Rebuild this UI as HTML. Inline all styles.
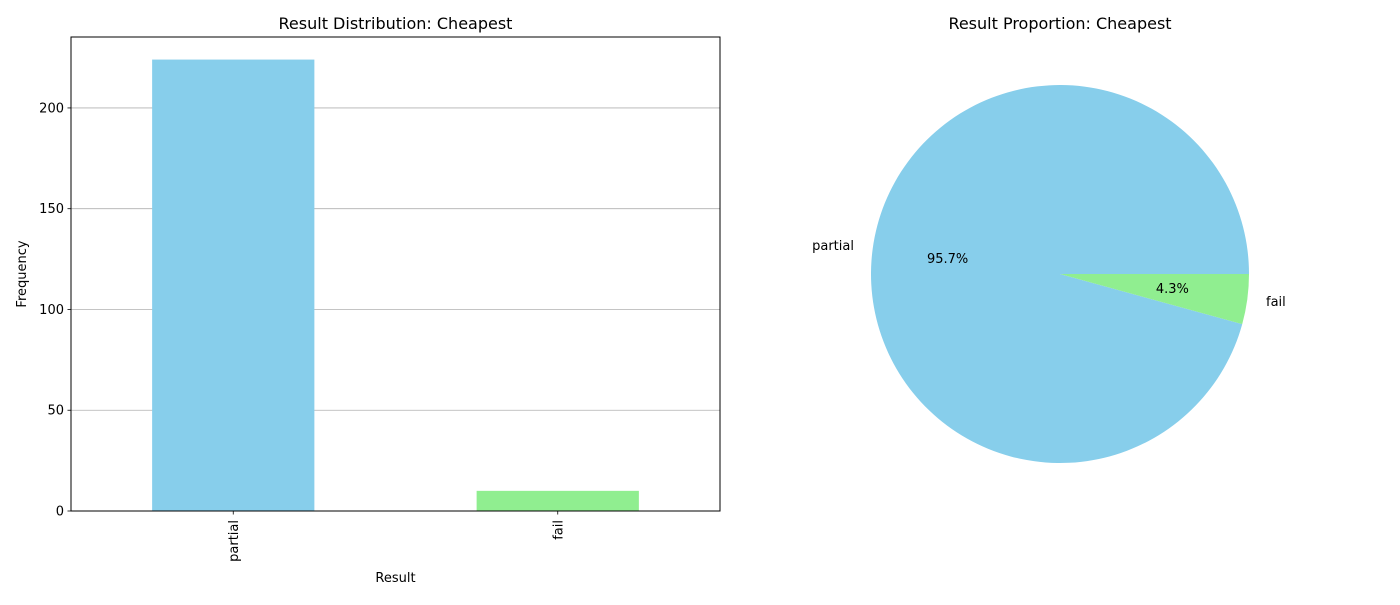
<!DOCTYPE html>
<html><head><meta charset="utf-8"><style>
body{margin:0;background:#fff;font-family:"Liberation Sans","DejaVu Sans",sans-serif;}
svg text{font-family:"DejaVu Sans","Liberation Sans",sans-serif;}
</style></head><body>
<svg id="c" width="1400" height="600" xmlns="http://www.w3.org/2000/svg"></svg>
<script>
const categories = ["partial", "fail"];
const counts = [224, 10];
const colors = ["#87ceeb", "#90ee90"];
const yTicks = [0, 50, 100, 150, 200];

const NS = "http://www.w3.org/2000/svg";
const svg = document.getElementById("c");
function mk(tag, attrs, parent) {
  const e = document.createElementNS(NS, tag);
  for (const k in attrs) e.setAttribute(k, attrs[k]);
  (parent || svg).appendChild(e);
  return e;
}
function txt(s, attrs, parent) { const t = mk("text", attrs, parent); t.textContent = s; return t; }

const L = 71, R = 720, T = 37, B = 511;
const yMax = Math.max(...counts) * 1.05;
const y = v => B - v / yMax * (B - T);
const x = i => L + (i + 0.5) / categories.length * (R - L);
const bw = (R - L) / categories.length * 0.5;

const bar = mk("g", {});



yTicks.forEach(v => {
  if (v > 0) {
    const g = mk("line", {x1: L, x2: R, y1: y(v), y2: y(v), stroke: "#b0b0b0", "stroke-width": 0.8}, bar);
    
    
  }
  mk("line", {x1: L - 3.5, x2: L, y1: y(v), y2: y(v), stroke: "#000", "stroke-width": 0.8}, bar);
  const t = txt(v, {x: L - 7, y: y(v) + 4.5, "text-anchor": "end", "font-size": 13}, bar);
  
  
});

categories.forEach((c, i) => {
  const r = mk("rect", {x: x(i) - bw / 2, y: y(counts[i]), width: bw, height: B - y(counts[i]), fill: colors[i]}, bar);
  
  
  mk("line", {x1: x(i), x2: x(i), y1: B, y2: B + 3.5, stroke: "#000", "stroke-width": 0.8}, bar);
  const t = txt(c, {x: 0, y: 0, "text-anchor": "end", "font-size": 13, transform: `translate(${x(i) + 4.5},${B + 9}) rotate(-90)`}, bar);
  
  
});

const frame = mk("rect", {x: L, y: T, width: R - L, height: B - T, fill: "none", stroke: "#000", "stroke-width": 1}, bar);



let t1 = txt("Result Distribution: Cheapest", {x: (L + R) / 2, y: 29, "text-anchor": "middle", "font-size": 16}, bar);


let xl = txt("Result", {x: (L + R) / 2, y: 582, "text-anchor": "middle", "font-size": 13}, bar);


let yl = txt("Frequency", {x: 0, y: 0, "text-anchor": "middle", "font-size": 13, transform: `translate(26,${(T + B) / 2}) rotate(-90)`}, bar);



const cx = 1060, cy = 274, rad = 189;
const pie = mk("g", {});


const total = counts.reduce((a, b) => a + b, 0);
let a0 = 0;
categories.forEach((c, i) => {
  const frac = counts[i] / total;
  const a1 = a0 + frac * 2 * Math.PI;
  const p0 = [cx + rad * Math.cos(a0), cy - rad * Math.sin(a0)];
  const p1 = [cx + rad * Math.cos(a1), cy - rad * Math.sin(a1)];
  const large = (a1 - a0) > Math.PI ? 1 : 0;
  const w = mk("path", {d: `M${cx},${cy} L${p0[0]},${p0[1]} A${rad},${rad} 0 ${large} 0 ${p1[0]},${p1[1]} Z`, fill: colors[i]}, pie);
  
  
  const am = (a0 + a1) / 2;
  const lx = cx + 1.1 * rad * Math.cos(am), ly = cy - 1.1 * rad * Math.sin(am);
  const lt = txt(c, {x: lx, y: ly + 4, "text-anchor": Math.cos(am) < 0 ? "end" : "start", "font-size": 13}, pie);
  
  
  const px = cx + 0.6 * rad * Math.cos(am), py = cy - 0.6 * rad * Math.sin(am);
  const pt = txt((frac * 100).toFixed(1) + "%", {x: px, y: py + 4, "text-anchor": "middle", "font-size": 13}, pie);
  
  
  a0 = a1;
});
let t2 = txt("Result Proportion: Cheapest", {x: cx, y: 29, "text-anchor": "middle", "font-size": 16}, pie);


</script>
</body></html>
